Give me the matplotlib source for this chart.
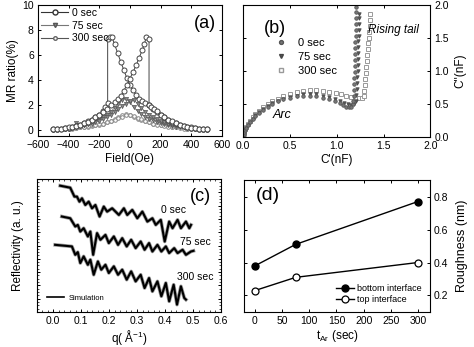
import numpy as np
import matplotlib
matplotlib.use('Agg')
import matplotlib.pyplot as plt
from matplotlib.lines import Line2D
from matplotlib.ticker import MultipleLocator, NullFormatter

plt.rcParams['font.family'] = ['Liberation Sans', 'DejaVu Sans']
plt.rcParams['mathtext.fontset'] = 'custom'
plt.rcParams['mathtext.rm'] = 'Liberation Sans'
plt.rcParams['mathtext.it'] = 'Liberation Sans:italic'
plt.rcParams['axes.linewidth'] = 0.8

# (a) MR curves, two field sweeps per sample
field_a0 = [-500, -475, -450, -425, -400, -375, -350, -325, -300, -275, -250, -225, -200, -175,
            -160, -145, -145, -132, -118, -100, -80, -60, -40, -20, 0, 20, 40, 60, 80, 100,
            125, 150, 175, 200, 225, 250, 275, 300, 325, 350, 375, 400, 425, 450, 475, 500]
mr_a0 = [0.05, 0.08, 0.1, 0.13, 0.16, 0.2, 0.28, 0.4, 0.55, 0.68, 0.8, 1.0, 1.2, 1.5,
         1.8, 2.15, 7.25, 7.4, 7.45, 6.85, 6.15, 5.45, 4.8, 4.15, 3.6, 3.15, 2.8, 2.5, 2.3, 2.15,
         1.95, 1.7, 1.45, 1.2, 1.0, 0.82, 0.66, 0.55, 0.42, 0.33, 0.26, 0.2, 0.15, 0.1, 0.07, 0.05]
field_b0 = [-500, -475, -450, -425, -400, -375, -350, -325, -300, -275, -250, -225, -200, -175,
            -150, -125, -100, -80, -60, -40, -20, 0, 20, 40, 60, 80, 95, 108, 125, 125,
            140, 160, 175, 200, 225, 250, 275, 300, 325, 350, 375, 400, 425, 450, 475, 500]
mr_b0 = [0.05, 0.07, 0.1, 0.15, 0.2, 0.26, 0.33, 0.42, 0.55, 0.66, 0.82, 1.0, 1.2, 1.45,
         1.7, 1.95, 2.2, 2.45, 2.7, 3.1, 3.6, 4.1, 4.6, 5.15, 5.75, 6.35, 6.9, 7.45, 7.3, 2.0,
         1.85, 1.65, 1.5, 1.2, 1.0, 0.8, 0.68, 0.55, 0.4, 0.28, 0.2, 0.16, 0.13, 0.1, 0.08, 0.05]

field = list(range(-500, 501, 25))
mr_a75 = [0.0, 0.05, 0.05, 0.1, 0.1, 0.2, 0.55, 0.35, 0.4, 0.5, 0.6, 0.7, 0.85, 1.0, 1.2, 1.45,
          1.75, 2.1, 2.4, 2.5, 2.2, 1.8, 1.5, 1.25, 1.05, 0.9, 0.75, 0.65, 0.55, 0.45, 0.4, 0.3,
          0.25, 0.2, 0.2, 0.15, 0.1, 0.1, 0.05, 0.05, 0.0]
mr_b75 = [0.0, 0.05, 0.1, 0.1, 0.15, 0.2, 0.25, 0.3, 0.35, 0.45, 0.5, 0.6, 0.7, 0.85, 1.0, 1.2,
          1.4, 1.65, 1.9, 2.1, 2.3, 2.4, 2.1, 1.75, 1.45, 1.2, 1.0, 0.85, 0.7, 0.6, 0.5, 0.4,
          0.35, 0.3, 0.25, 0.2, 0.15, 0.1, 0.1, 0.05, 0.0]
mr_a300 = [0.0, 0.0, 0.05, 0.05, 0.1, 0.1, 0.15, 0.2, 0.2, 0.25, 0.3, 0.35, 0.4, 0.5, 0.6, 0.7,
           0.85, 1.0, 1.15, 1.25, 1.2, 1.05, 0.9, 0.8, 0.7, 0.6, 0.5, 0.45, 0.4, 0.35, 0.3, 0.25,
           0.2, 0.2, 0.15, 0.1, 0.1, 0.05, 0.05, 0.0, 0.0]
mr_b300 = [0.0, 0.0, 0.05, 0.05, 0.1, 0.15, 0.15, 0.2, 0.25, 0.3, 0.35, 0.4, 0.45, 0.5, 0.6, 0.7,
           0.8, 0.95, 1.05, 1.15, 1.15, 1.1, 0.95, 0.85, 0.7, 0.6, 0.5, 0.4, 0.35, 0.3, 0.25, 0.2,
           0.2, 0.15, 0.1, 0.1, 0.05, 0.05, 0.0, 0.0, 0.0]

# (b) Cole-Cole plot: arc + rising tail
c1_0 = [0.0, 0.005, 0.01, 0.02, 0.03, 0.05, 0.07, 0.1, 0.13, 0.17, 0.21, 0.26, 0.31, 0.37, 0.43,
        0.5, 0.57, 0.64, 0.71, 0.78, 0.85, 0.92, 0.98, 1.03, 1.07, 1.1, 1.13, 1.15, 1.17,
        1.175, 1.18, 1.183, 1.186, 1.188, 1.19, 1.192, 1.194, 1.196, 1.197, 1.198, 1.2, 1.201,
        1.202, 1.204, 1.205, 1.207]
c2_0 = [0.0, 0.04, 0.07, 0.11, 0.14, 0.19, 0.23, 0.28, 0.32, 0.37, 0.41, 0.46, 0.5, 0.54, 0.57,
        0.6, 0.62, 0.63, 0.63, 0.62, 0.6, 0.57, 0.54, 0.51, 0.48, 0.46, 0.45, 0.46, 0.5,
        0.55, 0.63, 0.72, 0.81, 0.9, 0.99, 1.08, 1.17, 1.26, 1.35, 1.44, 1.53, 1.62,
        1.71, 1.8, 1.89, 1.97]
c1_75 = [0.0, 0.005, 0.01, 0.02, 0.03, 0.05, 0.07, 0.1, 0.13, 0.17, 0.21, 0.26, 0.31, 0.37, 0.43,
         0.5, 0.57, 0.64, 0.71, 0.78, 0.85, 0.92, 0.98, 1.03, 1.08, 1.12, 1.15, 1.18, 1.2,
         1.21, 1.215, 1.218, 1.22, 1.222, 1.224, 1.226, 1.228, 1.23, 1.232, 1.234, 1.236,
         1.238, 1.24, 1.242]
c2_75 = [0.0, 0.04, 0.07, 0.11, 0.14, 0.19, 0.23, 0.28, 0.33, 0.38, 0.42, 0.47, 0.51, 0.55, 0.58,
         0.61, 0.63, 0.65, 0.66, 0.65, 0.63, 0.61, 0.58, 0.55, 0.52, 0.5, 0.49, 0.5, 0.55,
         0.64, 0.73, 0.82, 0.91, 1.0, 1.09, 1.18, 1.27, 1.36, 1.45, 1.54, 1.63,
         1.72, 1.8, 1.87]
c1_300 = [0.0, 0.005, 0.01, 0.02, 0.03, 0.05, 0.07, 0.1, 0.13, 0.17, 0.21, 0.26, 0.31, 0.37, 0.43,
          0.5, 0.57, 0.64, 0.71, 0.78, 0.85, 0.92, 0.99, 1.05, 1.1, 1.15, 1.2, 1.24, 1.27,
          1.29, 1.295, 1.3, 1.305, 1.31, 1.315, 1.32, 1.325, 1.33, 1.335, 1.34, 1.345,
          1.35, 1.355, 1.36]
c2_300 = [0.0, 0.05, 0.08, 0.12, 0.15, 0.2, 0.25, 0.3, 0.35, 0.4, 0.45, 0.5, 0.54, 0.58, 0.62,
          0.65, 0.68, 0.7, 0.71, 0.71, 0.7, 0.69, 0.67, 0.65, 0.63, 0.61, 0.6, 0.59, 0.59,
          0.62, 0.7, 0.79, 0.88, 0.97, 1.06, 1.15, 1.24, 1.33, 1.42, 1.51, 1.6,
          1.69, 1.78, 1.87]

# (c) reflectivity (offset curves, arbitrary units)
q_0 = [0.025, 0.061, 0.076, 0.085, 0.094, 0.103, 0.115, 0.127, 0.139, 0.151, 0.166, 0.181, 0.193,
       0.211, 0.235, 0.253, 0.265, 0.283, 0.301, 0.319, 0.337, 0.355, 0.367, 0.385, 0.399, 0.415,
       0.427, 0.445, 0.457, 0.475, 0.487, 0.493]
r_0 = [9.5, 9.35, 8.68, 8.68, 8.3, 8.55, 8.05, 8.3, 7.8, 8.05, 7.18, 7.93, 7.55,
       7.8, 7.3, 7.8, 7.3, 7.68, 7.05, 7.55, 6.8, 7.05, 6.55, 6.93, 5.3, 6.8,
       6.3, 6.93, 6.3, 6.8, 6.3, 6.55]
q_75 = [0.031, 0.061, 0.079, 0.088, 0.097, 0.109, 0.124, 0.133, 0.143, 0.157, 0.169, 0.187, 0.199,
        0.217, 0.232, 0.247, 0.263, 0.279, 0.295, 0.313, 0.327, 0.343, 0.355, 0.373, 0.387, 0.403,
        0.415, 0.433, 0.445, 0.463, 0.475, 0.493, 0.502]
r_75 = [7.18, 7.05, 6.43, 6.55, 6.05, 6.3, 5.68, 6.05, 4.3, 5.93, 5.43, 5.8, 5.18,
        5.68, 5.05, 5.55, 4.93, 5.43, 4.8, 5.3, 4.68, 5.18, 4.55, 5.05, 4.55, 4.93,
        4.43, 4.8, 4.43, 4.68, 4.3, 4.55, 4.6]
q_300 = [0.007, 0.067, 0.079, 0.088, 0.097, 0.109, 0.124, 0.133, 0.145, 0.16, 0.172, 0.187, 0.199,
         0.217, 0.232, 0.247, 0.263, 0.279, 0.295, 0.313, 0.327, 0.343, 0.355, 0.373, 0.387, 0.403,
         0.415, 0.431, 0.443, 0.457, 0.469, 0.475]
r_300 = [5.05, 4.93, 4.3, 4.5, 3.68, 4.18, 3.55, 3.93, 2.8, 3.8, 3.18, 3.55, 2.93,
         3.43, 2.8, 3.18, 2.43, 3.05, 2.3, 2.8, 1.8, 2.55, 1.55, 2.3, 1.18, 2.18,
         0.8, 2.05, 0.55, 1.93, 1.05, 0.93]

# (d) roughness vs Ar etching time
t_ar = [0, 75, 300]
rough_bottom = [0.38, 0.51, 0.77]
rough_top = [0.23, 0.31, 0.40]

fig = plt.figure(figsize=(4.74, 3.47), dpi=100)
ax_a = fig.add_axes([0.080, 0.608, 0.388, 0.378])
ax_b = fig.add_axes([0.513, 0.605, 0.395, 0.380])
ax_c = fig.add_axes([0.078, 0.101, 0.388, 0.383])
ax_d = fig.add_axes([0.515, 0.101, 0.392, 0.380])

for ax in (ax_a, ax_b, ax_c, ax_d):
    ax.tick_params(direction='in', length=2.5, width=0.7, labelsize=7.5, top=True, right=True, pad=3)
    ax.tick_params(which='minor', direction='in', length=1.5, width=0.5, top=True, right=True)

# ---- (a)
ax_a.plot(field, mr_a300, '-', color='#999999', lw=0.6, marker='o', ms=2.6, mfc='white', mec='#888888', mew=0.7)
ax_a.plot(field, mr_b300, '-', color='#999999', lw=0.6, marker='o', ms=2.6, mfc='white', mec='#888888', mew=0.7)
ax_a.plot(field, mr_a75, '-', color='#777777', lw=0.6, marker='v', ms=3, mfc='#888888', mec='#555555', mew=0.5)
ax_a.plot(field, mr_b75, '-', color='#777777', lw=0.6, marker='v', ms=3, mfc='#888888', mec='#555555', mew=0.5)
ax_a.plot(field_a0, mr_a0, '-', color='#444444', lw=0.7, marker='o', ms=3.6, mfc='white', mec='#444444', mew=0.7)
ax_a.plot(field_b0, mr_b0, '-', color='#444444', lw=0.7, marker='o', ms=3.6, mfc='white', mec='#444444', mew=0.7)
ax_a.set_xlim(-600, 600)
ax_a.set_ylim(-0.5, 10)
ax_a.xaxis.set_major_locator(MultipleLocator(200))
ax_a.yaxis.set_major_locator(MultipleLocator(2))
ax_a.set_xlabel('Field(Oe)', fontsize=8.5, labelpad=2)
ax_a.set_ylabel('MR ratio(%)', fontsize=8.5, labelpad=2)
ax_a.text(0.91, 0.86, '(a)', transform=ax_a.transAxes, fontsize=13, ha='center', va='center')
hs = [Line2D([], [], color='#333333', lw=0.8, marker='o', ms=3.6, mfc='white', mec='#333333'),
      Line2D([], [], color='#777777', lw=0.8, marker='v', ms=3, mfc='#888888', mec='#555555'),
      Line2D([], [], color='#555555', lw=0.8, marker='o', ms=2.6, mfc='white', mec='#666666')]
ax_a.legend(hs, ['0 sec', '75 sec', '300 sec'], loc='upper left', frameon=False, fontsize=7.5,
            handlelength=2.6, handletextpad=0.4, labelspacing=0.25, borderaxespad=0.1,
            borderpad=0.2)

# ---- (b)
ax_b.plot(c1_300, c2_300, 's', ms=2.3, mfc='white', mec='#999999', mew=0.7, ls='none')
ax_b.plot(c1_75, c2_75, 'v', ms=2.5, mfc='#555555', mec='#444444', mew=0.5, ls='none')
ax_b.plot(c1_0, c2_0, 'o', ms=2.5, mfc='#777777', mec='#555555', mew=0.6, ls='none')
ax_b.set_xlim(0, 2)
ax_b.set_ylim(0, 2)
ax_b.xaxis.set_major_locator(MultipleLocator(0.5))
ax_b.yaxis.set_major_locator(MultipleLocator(0.5))
ax_b.yaxis.tick_right()
ax_b.tick_params(left=True, labelleft=False, labelright=True)
ax_b.yaxis.set_label_position('right')
ax_b.set_xlabel("C'(nF)", fontsize=8.5, labelpad=2)
ax_b.set_ylabel("C''(nF)", fontsize=8.5, labelpad=4)
ax_b.xaxis.set_major_formatter(matplotlib.ticker.FormatStrFormatter('%.1f'))
ax_b.yaxis.set_major_formatter(matplotlib.ticker.FormatStrFormatter('%.1f'))
ax_b.text(0.17, 0.82, '(b)', transform=ax_b.transAxes, fontsize=13, ha='center', va='center')
ax_b.text(1.33, 1.62, 'Rising tail', fontsize=8.5, style='italic', ha='left', va='center')
ax_b.text(0.32, 0.33, 'Arc', fontsize=9, style='italic', ha='left', va='center')
hb = [Line2D([], [], ls='none', marker='o', ms=2.8, mfc='#777777', mec='#555555'),
      Line2D([], [], ls='none', marker='v', ms=2.8, mfc='#555555', mec='#444444'),
      Line2D([], [], ls='none', marker='s', ms=2.6, mfc='white', mec='#999999')]
ax_b.legend(hb, ['0 sec', '75 sec', '300 sec'], loc='upper left', bbox_to_anchor=(0.13, 0.8),
            frameon=False, fontsize=8, handlelength=1.2, handletextpad=0.9, labelspacing=0.35,
            borderpad=0.1)

# ---- (c)
for q, r in ((q_0, r_0), (q_75, r_75), (q_300, r_300)):
    ax_c.plot(q, r, '-', color='#9a9a9a', lw=2.6)
    ax_c.plot(q, r, '-', color='black', lw=1.5)
ax_c.set_xlim(-0.058, 0.6)
ax_c.set_ylim(0, 10)
ax_c.xaxis.set_major_locator(MultipleLocator(0.1))
ax_c.xaxis.set_minor_locator(MultipleLocator(0.02))
ax_c.yaxis.set_minor_locator(MultipleLocator(0.25))
ax_c.yaxis.set_major_locator(MultipleLocator(1))
ax_c.yaxis.set_major_formatter(NullFormatter())
ax_c.xaxis.set_major_formatter(matplotlib.ticker.FormatStrFormatter('%.1f'))
ax_c.set_xlabel('q( Å$^{-1}$)', fontsize=8.5, labelpad=1)
ax_c.set_ylabel('Reflectivity (a. u.)', fontsize=8.5, labelpad=6)
ax_c.text(0.527, 8.65, '(c)', fontsize=13, ha='center', va='center')
ax_c.text(0.43, 7.67, '0 sec', fontsize=7.5, ha='center', va='center')
ax_c.text(0.51, 5.26, '75 sec', fontsize=7.5, ha='center', va='center')
ax_c.text(0.51, 2.63, '300 sec', fontsize=7.5, ha='center', va='center')
ax_c.legend([Line2D([], [], color='black', lw=1.2)], ['Simulation'], loc='lower left',
            frameon=False, fontsize=5.5, handlelength=2.2, handletextpad=0.6,
            bbox_to_anchor=(0.03, 0.04), borderpad=0.1)

# ---- (d)
ax_d.plot(t_ar, rough_bottom, '-', color='black', lw=1.0, marker='o', ms=5, mfc='black', mec='black')
ax_d.plot(t_ar, rough_top, '-', color='black', lw=1.0, marker='o', ms=5, mfc='white', mec='black', mew=0.9)
ax_d.set_xlim(-20, 322)
ax_d.set_ylim(0.1, 0.9)
ax_d.xaxis.set_major_locator(MultipleLocator(50))
ax_d.yaxis.set_major_locator(MultipleLocator(0.2))
ax_d.yaxis.tick_right()
ax_d.tick_params(left=True, labelleft=False, labelright=True)
ax_d.yaxis.set_label_position('right')
ax_d.yaxis.set_major_formatter(matplotlib.ticker.FormatStrFormatter('%.1f'))
ax_d.set_xlabel(r'$\mathregular{t_{Ar}}$ (sec)', fontsize=8.5, labelpad=1)
ax_d.set_ylabel('Roughness (nm)', fontsize=9, labelpad=5)
ax_d.text(0.13, 0.88, '(d)', transform=ax_d.transAxes, fontsize=14, ha='center', va='center')
ax_d.legend(['bottom interface', 'top interface'], loc='lower right', frameon=False, fontsize=6.5,
            handlelength=2.0, handletextpad=0.4, labelspacing=0.2, borderaxespad=0.5)

fig.savefig('out.png', dpi=100)
